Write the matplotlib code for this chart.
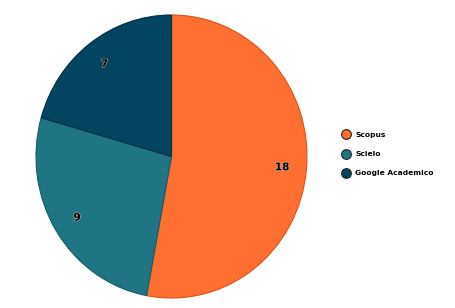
import matplotlib
matplotlib.use("Agg")
import matplotlib.pyplot as plt
from matplotlib.lines import Line2D
import matplotlib.patheffects as pe

labels = ["Scopus", "Scielo", "Google Academico"]
values = [18, 9, 7]
colors = ["#FF6F31", "#1F7583", "#034560"]
edges = ["#D9541A", "#155A66", "#022E42"]

fig = plt.figure(figsize=(4.56, 3.08), dpi=100)
ax = fig.add_axes([36/456, 10/308, 271/456, 283/308])
wedges, texts = ax.pie(values, colors=colors, startangle=90, counterclock=False,
                       labels=[str(v) for v in values], labeldistance=0.82,
                       wedgeprops=dict(linewidth=0.8),
                       textprops=dict(fontsize=7.5, fontweight="bold", color="black"))
for w, ec in zip(wedges, edges):
    w.set_edgecolor(ec)
for t in texts:
    t.set_ha("center"); t.set_va("center")
    t.set_path_effects([pe.withStroke(linewidth=0.8, foreground="#c8b8a8")])
ax.set_aspect("auto")
ax.set_xlim(-1.0, 1.0); ax.set_ylim(-1.0, 1.0)

handles = [Line2D([], [], marker="o", linestyle="", markersize=7, markerfacecolor=c,
                  markeredgecolor="#222222", markeredgewidth=0.8) for c in colors]
leg = fig.legend(handles, labels, loc="center left", bbox_to_anchor=(334/456, 154/308),
                 frameon=False, prop=dict(size=5.4, weight="bold"), handletextpad=0.45,
                 labelspacing=1.75, handlelength=1.5)
fig.savefig("out.png", dpi=100)
